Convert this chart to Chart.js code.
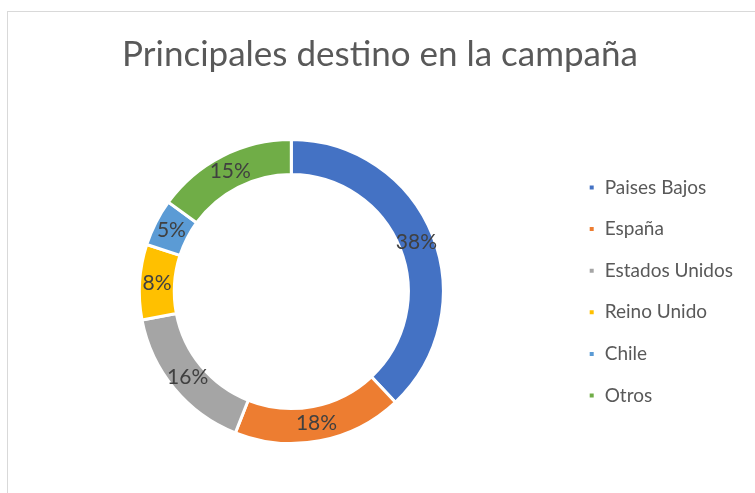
<!DOCTYPE html>
<html>
<head>
<meta charset="utf-8">
<script src="https://cdn.jsdelivr.net/npm/chart.js@4"></script>
<style>
    html, body { margin: 0; padding: 0; background: #ffffff; overflow: hidden; }
    #frame { position: absolute; left: 7px; top: 11px; width: 800px; height: 600px; border: 1px solid #d9d9d9; }
    #wrap { position: absolute; left: 0; top: 0; width: 755px; height: 493px; }
</style>
</head>
<body>
<div id="frame"></div>
<div id="wrap"><canvas id="chart" width="755" height="493"></canvas></div>
<script>
var chartTitle = "Principales destino en la campaña";
var destinos = ["Paises Bajos", "España", "Estados Unidos", "Reino Unido", "Chile", "Otros"];
var porcentajes = [38, 18, 16, 8, 5, 15];
var colores = ["#4472C4", "#ED7D31", "#A5A5A5", "#FFC000", "#5B9BD5", "#70AD47"];

// draws the percentage in the middle of each ring segment
var sliceLabels = {
    id: "sliceLabels",
    afterDatasetsDraw: function (chart) {
        var ctx = chart.ctx;
        var meta = chart.getDatasetMeta(0);
        ctx.save();
        ctx.font = "21px Lato";
        ctx.fillStyle = "#404040";
        ctx.textAlign = "center";
        ctx.textBaseline = "middle";
        meta.data.forEach(function (arc, i) {
            var pos = arc.tooltipPosition();
            ctx.fillText(chart.data.datasets[0].data[i] + "%", pos.x, pos.y);
        });
        ctx.restore();
    }
};

var ctx = document.getElementById("chart").getContext("2d");
new Chart(ctx, {
    type: "doughnut",
    data: {
        labels: destinos,
        datasets: [{
            data: porcentajes,
            backgroundColor: colores,
            borderColor: "#ffffff",
            borderWidth: 3
        }]
    },
    options: {
        responsive: false,
        animation: false,
        events: [],
        cutout: "77%",
        layout: { padding: { left: 17, right: 12, top: 0, bottom: 48 } },
        plugins: {
            title: {
                display: true,
                text: chartTitle,
                color: "#595959",
                font: { family: "Lato", size: 35, weight: "normal" },
                padding: { top: 34, bottom: 62 }
            },
            legend: {
                position: "right",
                fullSize: false,
                labels: {
                    boxWidth: 7,
                    boxHeight: 7,
                    padding: 22.6,
                    color: "#595959",
                    font: { family: "Lato", size: 19 }
                }
            },
            tooltip: { enabled: false }
        }
    },
    plugins: [sliceLabels]
});
</script>
</body>
</html>
